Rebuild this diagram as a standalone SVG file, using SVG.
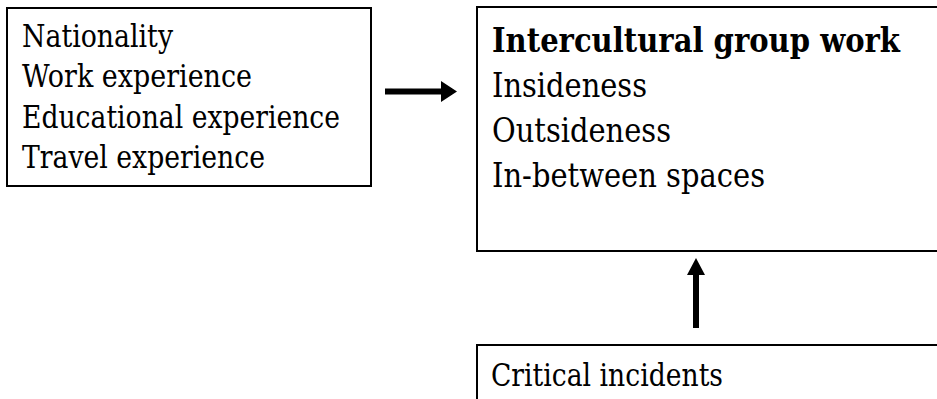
<svg xmlns="http://www.w3.org/2000/svg" width="937" height="399" viewBox="0 0 937 399">
<style>
.box{fill:#fff;stroke:#000;stroke-width:2}
text{font-family:'DejaVu Serif','Liberation Serif',serif;fill:#000}
.s{font-size:31px}
.m{font-size:34px}
.b{font-weight:bold}
</style>
<rect width="937" height="399" fill="#fff"/>
<g id="node-factors">
<rect class="box" x="7" y="8" width="364" height="178"/>
<text class="s" x="22" y="47" textLength="151" lengthAdjust="spacingAndGlyphs">Nationality</text>
<text class="s" x="22" y="87" textLength="230" lengthAdjust="spacingAndGlyphs">Work experience</text>
<text class="s" x="22" y="128" textLength="318" lengthAdjust="spacingAndGlyphs">Educational experience</text>
<text class="s" x="22" y="168" textLength="243" lengthAdjust="spacingAndGlyphs">Travel experience</text>
</g>
<g id="node-group-work">
<rect class="box" x="477" y="7" width="470" height="244"/>
<text class="m b" x="492" y="52" textLength="408" lengthAdjust="spacingAndGlyphs">Intercultural group work</text>
<text class="m" x="492" y="97" textLength="155" lengthAdjust="spacingAndGlyphs">Insideness</text>
<text class="m" x="492" y="142" textLength="179" lengthAdjust="spacingAndGlyphs">Outsideness</text>
<text class="m" x="492" y="187" textLength="273" lengthAdjust="spacingAndGlyphs">In-between spaces</text>
</g>
<g id="node-incidents">
<rect class="box" x="477" y="345" width="470" height="70"/>
<text class="s" x="491" y="386" textLength="232" lengthAdjust="spacingAndGlyphs">Critical incidents</text>
</g>
<g id="connectors">
<path d="M385 88.5 H441 V81 L457 91.5 L441 102 V94.5 H385 Z" fill="#000"/>
<path d="M693 328 V275 H687 L696 258 L705 275 H699 V328 Z" fill="#000"/>
</g>
</svg>
